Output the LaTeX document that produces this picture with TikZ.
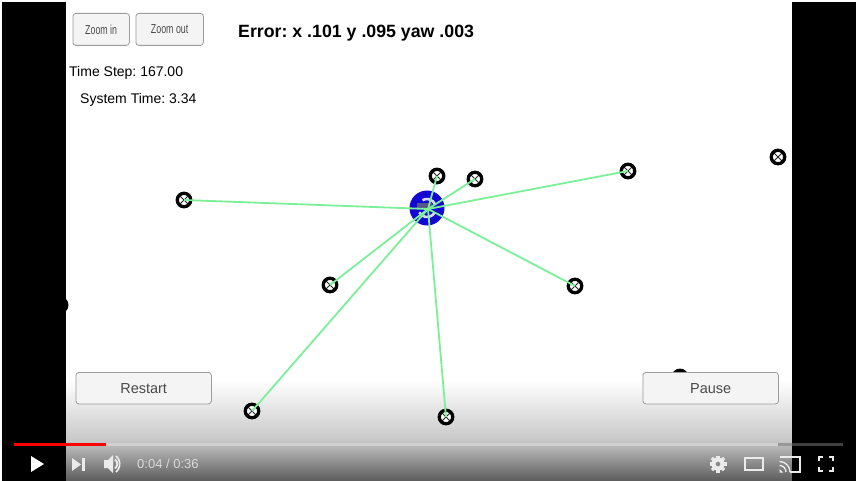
\documentclass[tikz,border=0pt]{standalone}
\usepackage{fontspec}
\setmainfont{Liberation Sans}
\usetikzlibrary{calc}
\definecolor{linkgreen}{HTML}{7CF098}
\definecolor{robotblue}{HTML}{1208D2}
\definecolor{btnfill}{HTML}{F4F4F4}
\definecolor{btnedge}{HTML}{9C9C9C}
\definecolor{btntext}{HTML}{4A4A4A}
\definecolor{ctrl}{HTML}{EBEBEB}
\definecolor{hubgray}{HTML}{56568A}
\definecolor{hubpale}{HTML}{D8D8F4}
\tikzset{
  lmk/.style={circle,draw=black,line width=3.3pt,fill=white,minimum size=13.5pt,inner sep=0pt,
    path picture={\draw[black!85,line width=1pt]
      (path picture bounding box.north west)--(path picture bounding box.south east)
      (path picture bounding box.north east)--(path picture bounding box.south west);}},
  link/.style={draw=linkgreen,line width=1.8pt},
  btn/.style={draw=btnedge,line width=.8pt,fill=btnfill,rounded corners=3pt,inner sep=0pt,text=btntext,font=\fontsize{14.5}{15}\selectfont},
  lbl/.style={inner sep=0pt,anchor=west,text=black},
}
\begin{document}
\frenchspacing
\begin{tikzpicture}[x=1pt,y=-1pt]
\useasboundingbox (0,0) rectangle (856,481);
\fill[white] (0,0) rectangle (856,481);
% bottom fade
\shade[top color=white,bottom color=black!22] (66,380) rectangle (792,441);
\shade[top color=black!22,bottom color=black!64] (66,440.5) rectangle (792,481);
% landmarks
\node[lmk] (l1) at (184,200) {};
\node[lmk] (l2) at (330,285) {};
\node[lmk] (l3) at (252,411) {};
\node[lmk] (l4) at (446,417) {};
\node[lmk] (l5) at (575,286) {};
\node[lmk] (l6) at (628,171) {};
\node[lmk] (l7) at (475,179) {};
\node[lmk] (l8) at (437,176) {};
\node[lmk] (l9) at (778,157) {};
\node[lmk] (l10) at (680,377) {};
\node[circle,fill=black,minimum size=17pt,inner sep=0pt] (l11) at (60,305) {};
% robot
\node[circle,fill=robotblue,minimum size=35pt,inner sep=0pt] (robot) at (427,208) {};
\draw[hubpale,line width=2.6pt] (427,208) ++(-20:9) arc (-20:-120:9);
\draw[hubpale,line width=2.6pt] (427,208) ++(30:9) arc (30:150:9);
\fill[hubgray] (417,202.5) rectangle (432,207.5);
\coordinate (hub) at (428,209);
% links
\foreach \n in {l1,l2,l3,l4,l5,l6,l7,l8}
  \draw[link] (hub) -- (\n.center);
% side bars
\fill[black] (2,2) rectangle (66,481);
\fill[black] (792,2) rectangle (856,481);
% buttons
\node[btn,minimum width=56.5pt,minimum height=32pt,anchor=north west] (zin) at (72.5,13)
  {\fontsize{13}{13}\selectfont\scalebox{.68}[1]{Zoom in}};
\node[btn,minimum width=67.5pt,minimum height=32pt,anchor=north west] (zout) at (135.5,13)
  {\fontsize{13}{13}\selectfont\scalebox{.68}[1]{Zoom out}};
\node[btn,minimum width=135.5pt,minimum height=31.5pt,anchor=north west] (restart) at (75.5,372) {Restart};
\node[btn,minimum width=135.5pt,minimum height=31.5pt,anchor=north west] (pause) at (642.5,372) {Pause};
% texts
\node[lbl,font=\bfseries\fontsize{17.75}{18}\selectfont] (err) at (238,33) {Error: x .101 y .095 yaw .003};
\node[lbl,font=\fontsize{14}{14}\selectfont] (ts) at (69,73) {Time Step: 167.00};
\node[lbl,font=\fontsize{14}{14}\selectfont] (st) at (80,100) {System Time: 3.34};
% progress bar
\fill[black!75] (792,443) rectangle (843,446);
\fill[black!40] (778,443) rectangle (792,446);
\fill[black!18] (106,443) rectangle (778,446);
\fill[red] (14,443) rectangle (106,446);
% play
\fill[white] (31,456) -- (44,464) -- (31,472) -- cycle;
% next
\fill[ctrl] (72,458) -- (81,464.5) -- (72,471) -- cycle;
\fill[ctrl] (81.5,458) rectangle (84.5,471);
% volume
\fill[ctrl] (104,460) -- (108,460) -- (113,455) -- (113,473) -- (108,468) -- (104,468) -- cycle;
\draw[ctrl,line width=1.8pt] (115,459.5) arc (-55:55:5.5);
\draw[ctrl,line width=1.6pt] (116,456) arc (-50:50:10.5);
\node[lbl,font=\fontsize{13}{13}\selectfont,text=black!15] (tm) at (137,464) {0:04 / 0:36};
% settings gear
\foreach \a in {0,45,...,315}
  \fill[ctrl] ($(718,464)+(\a:5.5)$) ++(\a+90:1.6) -- ++(\a:3) -- ++(\a-90:3.2) -- ++(\a+180:3) -- cycle;
\fill[ctrl,even odd rule] (718,464) circle (6.5) (718,464) circle (2.5);
% theater
\draw[ctrl,line width=1.7pt] (745,458) rectangle (763,470);
% cast
\draw[ctrl,line width=1.5pt] (780,457) -- (800,457) -- (800,472) -- (790,472);
\fill[ctrl] (779.5,469) -- (783,472.5) -- (779.5,472.5) -- cycle;
\draw[ctrl,line width=1.3pt] (779.5,465.5) arc (-90:0:6.5);
\draw[ctrl,line width=1.3pt] (779.5,461.5) arc (-90:0:10.5);
% fullscreen
\draw[ctrl,line width=1.8pt]
  (819,461) -- (819,457) -- (823,457)
  (829,457) -- (833,457) -- (833,461)
  (833,467) -- (833,471) -- (829,471)
  (823,471) -- (819,471) -- (819,467);
\end{tikzpicture}
\end{document}
